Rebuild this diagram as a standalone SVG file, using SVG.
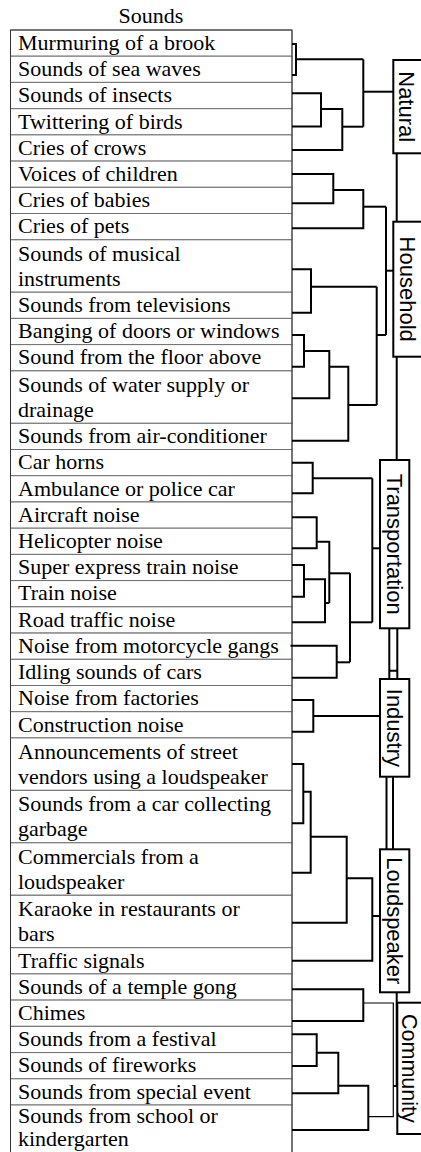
<svg xmlns="http://www.w3.org/2000/svg" width="421" height="1152" viewBox="0 0 421 1152">
<style>
.row rect{fill:#fff;stroke:#707070;stroke-width:1}
.row text,.title{font-family:"Liberation Serif","Times New Roman",serif;font-size:22px;fill:#000}
.cat rect{fill:#fff;stroke:#000;stroke-width:2}
.cat text{font-family:"Liberation Sans",Arial,sans-serif;font-size:22px;fill:#000;text-anchor:middle}
#connectors path{fill:none;stroke:#000;stroke-width:2}
#connectors path.thin{stroke-width:1.2}
</style>
<rect x="0" y="0" width="421" height="1152" fill="#fff"/>
<text class="title" x="151" y="23" text-anchor="middle">Sounds</text>
<g id="table">
<g class="row" id="r1"><rect x="10.5" y="30" width="281.5" height="26.2"/><text x="18" y="49.8">Murmuring of a brook</text></g>
<g class="row" id="r2"><rect x="10.5" y="56.2" width="281.5" height="26.2"/><text x="18" y="76">Sounds of sea waves</text></g>
<g class="row" id="r3"><rect x="10.5" y="82.4" width="281.5" height="26.2"/><text x="18" y="102.2">Sounds of insects</text></g>
<g class="row" id="r4"><rect x="10.5" y="108.7" width="281.5" height="26.2"/><text x="18" y="128.5">Twittering of birds</text></g>
<g class="row" id="r5"><rect x="10.5" y="134.9" width="281.5" height="26.2"/><text x="18" y="154.7">Cries of crows</text></g>
<g class="row" id="r6"><rect x="10.5" y="161.1" width="281.5" height="26.2"/><text x="18" y="180.9">Voices of children</text></g>
<g class="row" id="r7"><rect x="10.5" y="187.3" width="281.5" height="26.2"/><text x="18" y="207.1">Cries of babies</text></g>
<g class="row" id="r8"><rect x="10.5" y="213.5" width="281.5" height="26.2"/><text x="18" y="233.3">Cries of pets</text></g>
<g class="row" id="r9"><rect x="10.5" y="239.8" width="281.5" height="52.4"/><text x="18" y="260.6">Sounds of musical<tspan x="18" dy="25.2">instruments</tspan></text></g>
<g class="row" id="r10"><rect x="10.5" y="292.2" width="281.5" height="26.2"/><text x="18" y="312">Sounds from televisions</text></g>
<g class="row" id="r11"><rect x="10.5" y="318.4" width="281.5" height="26.2"/><text x="18" y="338.2">Banging of doors or windows</text></g>
<g class="row" id="r12"><rect x="10.5" y="344.6" width="281.5" height="26.2"/><text x="18" y="364.4">Sound from the floor above</text></g>
<g class="row" id="r13"><rect x="10.5" y="370.9" width="281.5" height="52.4"/><text x="18" y="391.7">Sounds of water supply or<tspan x="18" dy="25.2">drainage</tspan></text></g>
<g class="row" id="r14"><rect x="10.5" y="423.3" width="281.5" height="26.2"/><text x="18" y="443.1">Sounds from air-conditioner</text></g>
<g class="row" id="r15"><rect x="10.5" y="449.5" width="281.5" height="26.2"/><text x="18" y="469.3">Car horns</text></g>
<g class="row" id="r16"><rect x="10.5" y="475.7" width="281.5" height="26.2"/><text x="18" y="495.5">Ambulance or police car</text></g>
<g class="row" id="r17"><rect x="10.5" y="502" width="281.5" height="26.2"/><text x="18" y="521.8">Aircraft noise</text></g>
<g class="row" id="r18"><rect x="10.5" y="528.2" width="281.5" height="26.2"/><text x="18" y="548">Helicopter noise</text></g>
<g class="row" id="r19"><rect x="10.5" y="554.4" width="281.5" height="26.2"/><text x="18" y="574.2">Super express train noise</text></g>
<g class="row" id="r20"><rect x="10.5" y="580.6" width="281.5" height="26.2"/><text x="18" y="600.4">Train noise</text></g>
<g class="row" id="r21"><rect x="10.5" y="606.8" width="281.5" height="26.2"/><text x="18" y="626.6">Road traffic noise</text></g>
<g class="row" id="r22"><rect x="10.5" y="633.1" width="281.5" height="26.2"/><text x="18" y="652.9">Noise from motorcycle gangs</text></g>
<g class="row" id="r23"><rect x="10.5" y="659.3" width="281.5" height="26.2"/><text x="18" y="679.1">Idling sounds of cars</text></g>
<g class="row" id="r24"><rect x="10.5" y="685.5" width="281.5" height="26.2"/><text x="18" y="705.3">Noise from factories</text></g>
<g class="row" id="r25"><rect x="10.5" y="711.7" width="281.5" height="26.2"/><text x="18" y="731.5">Construction noise</text></g>
<g class="row" id="r26"><rect x="10.5" y="737.9" width="281.5" height="52.4"/><text x="18" y="758.7">Announcements of street<tspan x="18" dy="25.2">vendors using a loudspeaker</tspan></text></g>
<g class="row" id="r27"><rect x="10.5" y="790.4" width="281.5" height="52.4"/><text x="18" y="811.2">Sounds from a car collecting<tspan x="18" dy="25.2">garbage</tspan></text></g>
<g class="row" id="r28"><rect x="10.5" y="842.8" width="281.5" height="52.4"/><text x="18" y="863.6">Commercials from a<tspan x="18" dy="25.2">loudspeaker</tspan></text></g>
<g class="row" id="r29"><rect x="10.5" y="895.3" width="281.5" height="52.4"/><text x="18" y="916.1">Karaoke in restaurants or<tspan x="18" dy="25.2">bars</tspan></text></g>
<g class="row" id="r30"><rect x="10.5" y="947.7" width="281.5" height="26.2"/><text x="18" y="967.5">Traffic signals</text></g>
<g class="row" id="r31"><rect x="10.5" y="973.9" width="281.5" height="26.2"/><text x="18" y="993.7">Sounds of a temple gong</text></g>
<g class="row" id="r32"><rect x="10.5" y="1000.1" width="281.5" height="26.2"/><text x="18" y="1019.9">Chimes</text></g>
<g class="row" id="r33"><rect x="10.5" y="1026.4" width="281.5" height="26.2"/><text x="18" y="1046.2">Sounds from a festival</text></g>
<g class="row" id="r34"><rect x="10.5" y="1052.6" width="281.5" height="26.2"/><text x="18" y="1072.4">Sounds of fireworks</text></g>
<g class="row" id="r35"><rect x="10.5" y="1078.8" width="281.5" height="26.2"/><text x="18" y="1098.6">Sounds from special event</text></g>
<g class="row" id="r36"><rect x="10.5" y="1105" width="281.5" height="52.4"/><text x="18" y="1123">Sounds from school or<tspan x="18" dy="23">kindergarten</tspan></text></g>
<path d="M10.5 1160 V30 H292 V1160" fill="none" stroke="#333" stroke-width="1"/>
</g>
<g id="connectors">
<path d="M292 44 H296 V75 H292"/>
<path d="M296 59.3 H363.3"/>
<path d="M292 93.3 H321 V126.5 H292"/>
<path d="M321 109 H342.3 V150 H292"/>
<path d="M342.3 126.7 H363.3"/>
<path d="M363.3 59.3 V126.7"/>
<path d="M363.3 91.7 H393.3"/>
<path d="M292 174 H333.3 V203.3 H292"/>
<path d="M333.3 190 H363.3 V228.3 H292"/>
<path d="M363.3 206.7 H386"/>
<path d="M292 269.3 H311 V312.7 H292"/>
<path d="M311 286.7 H376.7"/>
<path d="M292 335 H304 V366.7 H292"/>
<path d="M304 351 H329.3 V398.3 H292"/>
<path d="M329.3 366.7 H348.3 V440.7 H292"/>
<path d="M348.3 405 H376.7"/>
<path d="M376.7 286.7 V405"/>
<path d="M376.7 335 H386"/>
<path d="M386 206.7 V335"/>
<path d="M386 270.7 H393.3"/>
<path d="M396.7 153.3 V221.7"/>
<path d="M396.7 356.7 V460"/>
<path d="M292 462.7 H312.7 V493.3 H292"/>
<path d="M312.7 478.3 H372.3"/>
<path d="M292 517.3 H316.7 V548.3 H292"/>
<path d="M316.7 541.7 H329.3 V603"/>
<path d="M292 565 H304 V596.7 H292"/>
<path d="M304 579.3 H325 V622.3 H292"/>
<path d="M325 603 H329.3"/>
<path d="M329.3 573.3 H350"/>
<path d="M290.5 645.7 H336.7 V677.7 H292"/>
<path d="M336.7 662.3 H350"/>
<path d="M350 573.3 V662.3"/>
<path d="M350 622.3 H372.3"/>
<path d="M372.3 478.3 V622.3"/>
<path d="M372.3 548.3 H380"/>
<path d="M389.3 628.3 V679 M397.3 628.3 V679 M389.3 670.7 H397.3"/>
<path d="M292 700 H313.3 V731.7 H292"/>
<path d="M313.3 716 H380"/>
<path d="M386.5 776.7 V849.3 M393 776.7 V849.3"/>
<path d="M292 764 H303.3 V823.3 H292"/>
<path d="M303.3 791.7 H310.7 V872.7 H292"/>
<path d="M310.7 836.7 H346.7 V922.7 H292"/>
<path d="M346.7 878.3 H372.3 V960.7 H292"/>
<path d="M372.3 916 H380"/>
<path d="M396.7 992.3 V1086"/>
<path d="M292 989.3 H363.3 V1021 H292"/>
<path d="M292 1034.3 H316.7 V1066 H292"/>
<path d="M316.7 1052.7 H338.3 V1093.3 H292"/>
<path d="M338.3 1085.7 H368.3 V1130 H292"/>
<path class="thin" d="M363.3 1003 H393.3 V1116.7 H368.3"/>
<path d="M393.3 1086 H397.3"/>
</g>
<g id="cat-natural" class="cat"><rect x="393.3" y="60" width="40" height="93.3"/><text transform="translate(399,106.7) rotate(90)">Natural</text></g>
<g id="cat-household" class="cat"><rect x="393.3" y="221.7" width="40" height="135"/><text transform="translate(399.5,289.2) rotate(90)">Household</text></g>
<g id="cat-transportation" class="cat"><rect x="380" y="460" width="29.3" height="168.3"/><text transform="translate(387.3,544.2) rotate(90)">Transportation</text></g>
<g id="cat-industry" class="cat"><rect x="380" y="679" width="29.3" height="97.7"/><text transform="translate(387.3,727.9) rotate(90)">Industry</text></g>
<g id="cat-loudspeaker" class="cat"><rect x="380" y="849.3" width="29.3" height="143"/><text transform="translate(387.3,920.8) rotate(90)">Loudspeaker</text></g>
<g id="cat-community" class="cat"><rect x="397.3" y="1002.7" width="40" height="131.3"/><text transform="translate(401.5,1068.4) rotate(90)" style="font-size:21.5px">Community</text></g>
</svg>
